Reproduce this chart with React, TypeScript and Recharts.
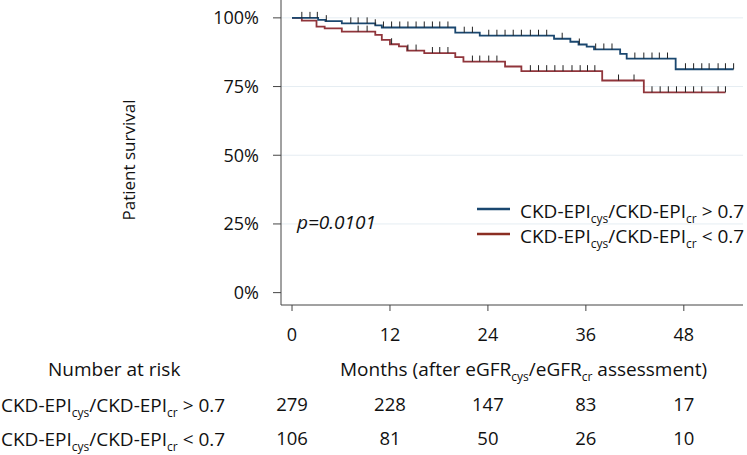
import React from "react";
import { CartesianGrid, ComposedChart, Line, Scatter, XAxis, YAxis } from "recharts";

// axis ticks
const monthTicks = [0, 12, 24, 36, 48];
const survivalTicks = [0, 25, 50, 75, 100];
const gridLevels = [25, 50, 75, 100];

// KM steps, ratio > 0.7
const highTimes = [0, 3.2, 4.1, 6.1, 10.2, 11.0, 20.0, 23.0, 32.1, 34.1, 35.1, 36.1, 37.0, 40.2, 41.0, 47.0, 54.1];
const highSurvival = [100, 99.3, 98.8, 98.0, 97.3, 96.5, 94.6, 93.5, 92.4, 91.3, 90.3, 89.5, 88.5, 86.9, 85.2, 81.3, 81.3];
const highCensored = [
  1.2, 2.2, 3.1, 4.2, 7.2, 8.1, 9.2, 10.2, 11.2, 12.2, 13.2, 14.2, 15.2, 16.2, 17.2, 18.1, 19.1, 21.1, 22.1,
  24.1, 25.1, 26.1, 27.1, 28.1, 29.2, 30.2, 31.2, 33.1, 35.2, 37.2, 38.2, 39.2, 42.0, 43.1, 44.1, 45.0, 46.0,
  48.2, 49.2, 50.2, 51.1, 52.2, 53.1, 54.1,
];

// KM steps, ratio < 0.7
const lowTimes = [0, 1.2, 3.0, 4.0, 6.1, 10.2, 11.0, 12.0, 13.1, 14.1, 16.2, 20.0, 21.0, 26.1, 28.1, 38.0, 43.1, 53.1];
const lowSurvival = [100, 99.0, 96.8, 96.2, 95.0, 93.8, 92.0, 90.4, 89.6, 88.1, 87.2, 85.7, 84.1, 82.3, 80.6, 77.2, 72.9, 72.9];
const lowCensored = [
  8.1, 9.2, 12.2, 14.2, 15.2, 17.2, 18.1, 19.1, 22.1, 23.0, 24.1, 25.1, 29.2, 30.2, 31.2, 32.2, 33.2, 34.3,
  35.3, 36.2, 37.1, 40.0, 41.9, 44.1, 45.1, 46.1, 47.1, 48.2, 49.2, 50.2, 52.2, 53.1,
];

// number at risk
const riskHigh = [279, 228, 147, 83, 17];
const riskLow = [106, 81, 50, 26, 10];

const BLUE = "#1a476f";
const RED = "#90353b";
const INK = "#111";
const AXIS = "#444";
const FONT = "'Open Sans', 'Noto Sans', sans-serif";
const X_DOMAIN: [number, number] = [-1.35, 55.25];

const toSteps = (times: number[], surv: number[]) => times.map((t, i) => ({ t, s: surv[i] }));

const survivalAt = (times: number[], surv: number[], t: number) => {
  let v = surv[0];
  times.forEach((x, i) => {
    if (x <= t) v = surv[i];
  });
  return v;
};

const toCensor = (cens: number[], times: number[], surv: number[]) =>
  cens.map((t) => ({ t, s: survivalAt(times, surv, t) }));

const highSteps = toSteps(highTimes, highSurvival);
const lowSteps = toSteps(lowTimes, lowSurvival);
const highMarks = toCensor(highCensored, highTimes, highSurvival);
const lowMarks = toCensor(lowCensored, lowTimes, lowSurvival);

const CensorMark = (props: any) => (
  <line x1={props.cx} y1={props.cy} x2={props.cx} y2={props.cy - 6} stroke="#222" strokeWidth={1} />
);

function RatioLabel({ x, y, sign, size }: { x: number; y: number; sign: string; size: number }) {
  return (
    <text x={x} y={y} fontSize={size} fill={INK} style={{ whiteSpace: "pre" }}>
      <tspan>CKD-EPI</tspan>
      <tspan dy={5} fontSize={12}>cys</tspan>
      <tspan dy={-5}>/CKD-EPI</tspan>
      <tspan dy={5} fontSize={12}>cr</tspan>
      <tspan dy={-5}>{` ${sign} 0.7`}</tspan>
    </text>
  );
}

const riskTick = (arr: number[]) => (v: number) => {
  const i = monthTicks.indexOf(v);
  return i >= 0 ? String(arr[i]) : "";
};

export default function App() {
  return (
    <div style={{ position: "absolute", left: 0, top: 0, width: 747, height: 455, background: "#fff", fontFamily: FONT }}>
      <ComposedChart width={747} height={455} margin={{ top: 0, right: 4, bottom: 22, left: 221 }}>
        <CartesianGrid vertical={false} horizontalValues={gridLevels} stroke="#e5edf2" />
        <XAxis
          dataKey="t"
          type="number"
          domain={X_DOMAIN}
          allowDataOverflow
          ticks={monthTicks}
          interval={0}
          height={50}
          tickSize={6}
          tickMargin={17}
          stroke={AXIS}
          tick={{ fill: INK, fontSize: 18, fontFamily: FONT }}
        />
        <XAxis
          xAxisId="r1"
          dataKey="t"
          type="number"
          domain={X_DOMAIN}
          allowDataOverflow
          ticks={monthTicks}
          interval={0}
          height={44}
          tickSize={0}
          tickMargin={43}
          axisLine={false}
          tickLine={false}
          tickFormatter={riskTick(riskHigh)}
          tick={{ fill: INK, fontSize: 18.5, fontFamily: FONT }}
        />
        <XAxis
          xAxisId="r2"
          dataKey="t"
          type="number"
          domain={X_DOMAIN}
          allowDataOverflow
          ticks={monthTicks}
          interval={0}
          height={34}
          tickSize={0}
          tickMargin={33}
          axisLine={false}
          tickLine={false}
          tickFormatter={riskTick(riskLow)}
          tick={{ fill: INK, fontSize: 18.5, fontFamily: FONT }}
        />
        <YAxis
          type="number"
          domain={[-4.5, 106.5]}
          allowDataOverflow
          ticks={survivalTicks}
          interval={0}
          width={60}
          tickSize={8}
          tickMargin={14}
          stroke={AXIS}
          tickFormatter={(v: number) => `${v}%`}
          tick={{ fill: INK, fontSize: 18, fontFamily: FONT }}
        />
        <Line
          data={lowSteps}
          dataKey="s"
          type="stepAfter"
          stroke={RED}
          strokeWidth={1.8}
          dot={false}
          isAnimationActive={false}
        />
        <Line
          data={highSteps}
          dataKey="s"
          type="stepAfter"
          stroke={BLUE}
          strokeWidth={1.8}
          dot={false}
          isAnimationActive={false}
        />
        <Scatter data={lowMarks} dataKey="s" shape={CensorMark} isAnimationActive={false} />
        <Scatter data={highMarks} dataKey="s" shape={CensorMark} isAnimationActive={false} />
      </ComposedChart>

      <svg
        width={747}
        height={455}
        style={{ position: "absolute", left: 0, top: 0, pointerEvents: "none", fontFamily: FONT }}
      >
        <text x={135} y={160} fontSize={17} fill={INK} textAnchor="middle" transform="rotate(-90 135 160)">
          Patient survival
        </text>
        <text x={297} y={229} fontSize={19} fill={INK} fontStyle="italic">
          p=0.0101
        </text>

        <line x1={477} y1={209} x2={510} y2={209} stroke={BLUE} strokeWidth={2.5} />
        <RatioLabel x={520} y={218} sign=">" size={19} />
        <line x1={477} y1={234} x2={510} y2={234} stroke="#8b2e22" strokeWidth={2.5} />
        <RatioLabel x={520} y={243} sign="<" size={19} />

        <text x={48} y={376} fontSize={19} fill={INK}>
          Number at risk
        </text>
        <text x={340} y={376} fontSize={19} fill={INK} style={{ whiteSpace: "pre" }}>
          <tspan>Months (after eGFR</tspan>
          <tspan dy={5} fontSize={12}>cys</tspan>
          <tspan dy={-5}>/eGFR</tspan>
          <tspan dy={5} fontSize={12}>cr</tspan>
          <tspan dy={-5}> assessment)</tspan>
        </text>
        <RatioLabel x={1} y={412} sign=">" size={19} />
        <RatioLabel x={1} y={446} sign="<" size={19} />
      </svg>
    </div>
  );
}
